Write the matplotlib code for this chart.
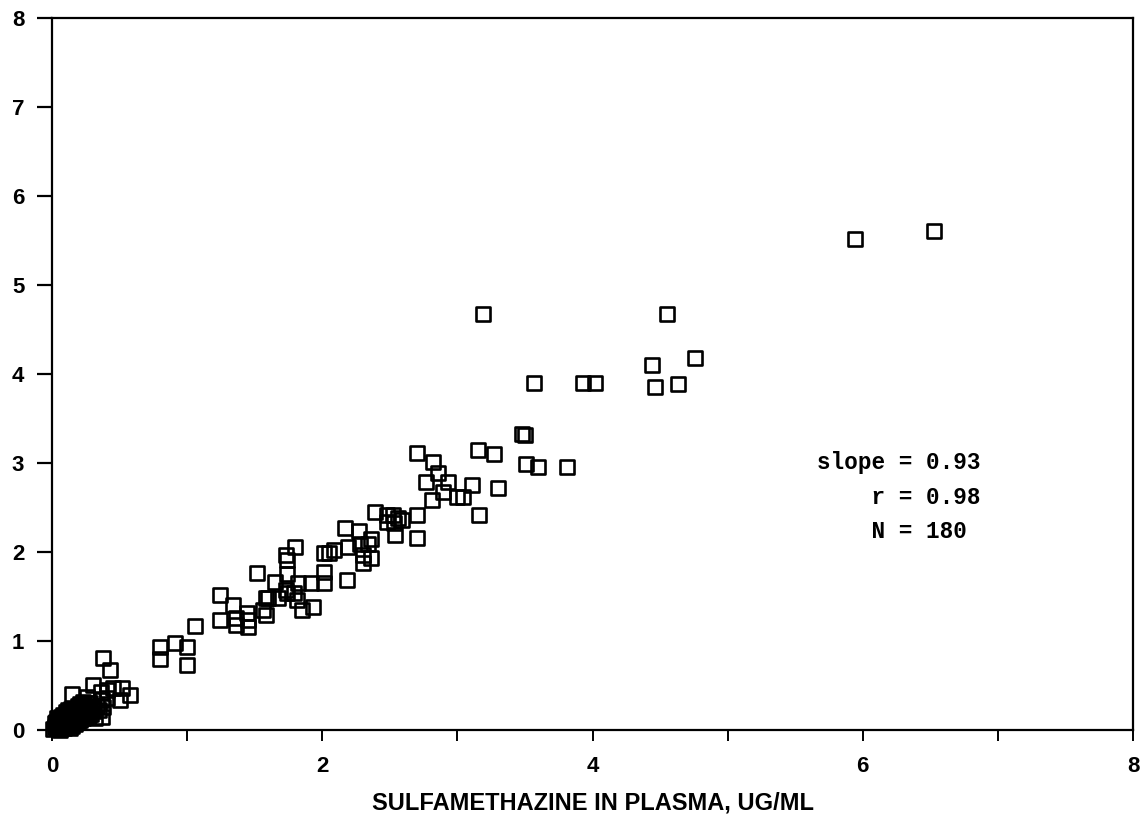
import numpy as np
import matplotlib
matplotlib.use("Agg")
from matplotlib import pyplot as plt
from matplotlib.markers import MarkerStyle
from matplotlib.font_manager import FontProperties

# plasma concentration (x) vs second matrix (y), ug/ml
plasma = [
    5.94, 6.53, 3.19, 4.55, 4.76, 4.44, 4.46, 4.63, 3.57, 3.93, 4.02,
    3.48, 3.50, 3.51, 3.60, 3.81, 3.15, 3.27, 3.30, 3.16, 3.11,
    2.70, 2.82, 2.86, 2.77, 2.93, 2.89, 2.81, 3.00, 3.04, 2.70, 2.70,
    2.39, 2.48, 2.52, 2.56, 2.48, 2.53, 2.59, 2.54,
    2.17, 2.27, 2.28, 2.34, 2.36, 2.30, 2.36, 2.30, 2.19, 2.09, 2.05, 2.01, 2.18,
    1.80, 1.73, 1.74, 2.01, 2.01, 1.92, 1.82, 1.74, 1.65, 1.52,
    1.24, 1.34, 1.58, 1.60, 1.67, 1.73, 1.74, 1.79, 1.81, 1.93,
    1.85, 1.56, 1.58, 1.44, 1.45, 1.24, 1.36, 1.36, 1.45, 1.06,
    0.80, 0.91, 1.00, 0.80, 1.00,
    0.38, 0.43, 0.15, 0.30, 0.36, 0.41, 0.45, 0.52, 0.58, 0.50,
    0.26, 0.23, 0.37, 0.41, 0.30, 0.38, 0.37, 0.23,
    0.02, 0.03, 0.04, 0.05, 0.05, 0.06, 0.07, 0.08, 0.08, 0.09,
    0.10, 0.10, 0.11, 0.12, 0.12, 0.13, 0.14, 0.14, 0.15, 0.16,
    0.16, 0.17, 0.18, 0.18, 0.19, 0.20, 0.20, 0.21, 0.22, 0.22,
    0.23, 0.24, 0.25, 0.26, 0.27, 0.28, 0.29, 0.30, 0.31, 0.33,
    0.03, 0.04, 0.06, 0.07, 0.09, 0.11, 0.13, 0.15, 0.06, 0.08,
    0.10, 0.12, 0.14, 0.17, 0.19, 0.21, 0.23, 0.25, 0.27, 0.01,
    0.02, 0.04, 0.07, 0.09, 0.11, 0.13, 0.15, 0.17, 0.19, 0.21,
    0.24, 0.26, 0.28, 0.35, 0.32,
]
other = [
    5.52, 5.61, 4.67, 4.67, 4.18, 4.10, 3.85, 3.89, 3.90, 3.90, 3.90,
    3.33, 3.31, 2.99, 2.96, 2.96, 3.15, 3.10, 2.72, 2.42, 2.75,
    3.11, 3.01, 2.89, 2.79, 2.79, 2.67, 2.58, 2.62, 2.62, 2.42, 2.16,
    2.45, 2.42, 2.42, 2.38, 2.34, 2.33, 2.36, 2.19,
    2.27, 2.24, 2.09, 2.09, 2.15, 1.97, 1.93, 1.88, 2.06, 2.02, 1.99, 1.99, 1.69,
    2.06, 1.97, 1.91, 1.78, 1.65, 1.65, 1.65, 1.75, 1.66, 1.76,
    1.52, 1.40, 1.48, 1.48, 1.48, 1.57, 1.54, 1.54, 1.46, 1.38,
    1.35, 1.35, 1.29, 1.31, 1.24, 1.24, 1.26, 1.18, 1.16, 1.17,
    0.93, 0.98, 0.93, 0.80, 0.73,
    0.81, 0.67, 0.40, 0.51, 0.43, 0.45, 0.47, 0.47, 0.39, 0.34,
    0.37, 0.31, 0.34, 0.36, 0.26, 0.26, 0.15, 0.15,
    0.03, 0.05, 0.02, 0.06, 0.10, 0.04, 0.08, 0.05, 0.12, 0.09,
    0.07, 0.13, 0.10, 0.06, 0.15, 0.11, 0.08, 0.17, 0.13, 0.10,
    0.19, 0.15, 0.12, 0.21, 0.17, 0.14, 0.23, 0.19, 0.16, 0.25,
    0.21, 0.18, 0.23, 0.20, 0.26, 0.22, 0.18, 0.24, 0.21, 0.27,
    0.09, 0.14, 0.00, 0.15, 0.02, 0.04, 0.02, 0.05, 0.12, 0.17,
    0.20, 0.22, 0.24, 0.07, 0.09, 0.11, 0.13, 0.15, 0.17, 0.01,
    0.08, 0.07, 0.03, 0.14, 0.17, 0.19, 0.21, 0.24, 0.27, 0.29,
    0.28, 0.30, 0.30, 0.22, 0.13,
]

x_ticks = [0, 1, 2, 3, 4, 5, 6, 7, 8]
x_labels = ["0", "", "2", "", "4", "", "6", "", "8"]
y_ticks = [0, 1, 2, 3, 4, 5, 6, 7, 8]
stats = ["slope = 0.93", "    r = 0.98", "    N = 180"]

fig = plt.figure(figsize=(11.46, 8.19), dpi=100)
ax = fig.add_axes([0.0454, 0.1087, 0.9433, 0.8693])

sq = MarkerStyle("s", fillstyle="none", joinstyle="round")
ax.plot(plasma, other, linestyle="none", marker=sq, mec="black", ms=10,
        mew=1.9, clip_on=False)

ax.set_xlim(0, 8)
ax.set_ylim(0, 8)
ax.set_xticks(x_ticks)
ax.set_xticklabels(x_labels)
ax.set_yticks(y_ticks)

for s in ax.spines.values():
    s.set_linewidth(1.6)

tick_font = FontProperties(family="Liberation Sans", weight="bold", size=16)
ax.tick_params(axis="y", direction="out", length=11, width=1.6, pad=9)
ax.tick_params(axis="x", direction="out", length=8, width=1.4, pad=11)
for lbl in ax.get_xticklabels() + ax.get_yticklabels():
    lbl.set_fontproperties(tick_font)

ax.set_xlabel("SULFAMETHAZINE IN PLASMA, UG/ML", family="Liberation Sans",
              weight="bold", size=17, labelpad=10)

# regression statistics, monospace block
for i, line in enumerate(stats):
    ax.text(5.66, 3.0 - 0.385 * i, line, family="Liberation Mono", weight="bold",
            size=16.3, ha="left", va="center")

fig.savefig("out.png", dpi=100)
